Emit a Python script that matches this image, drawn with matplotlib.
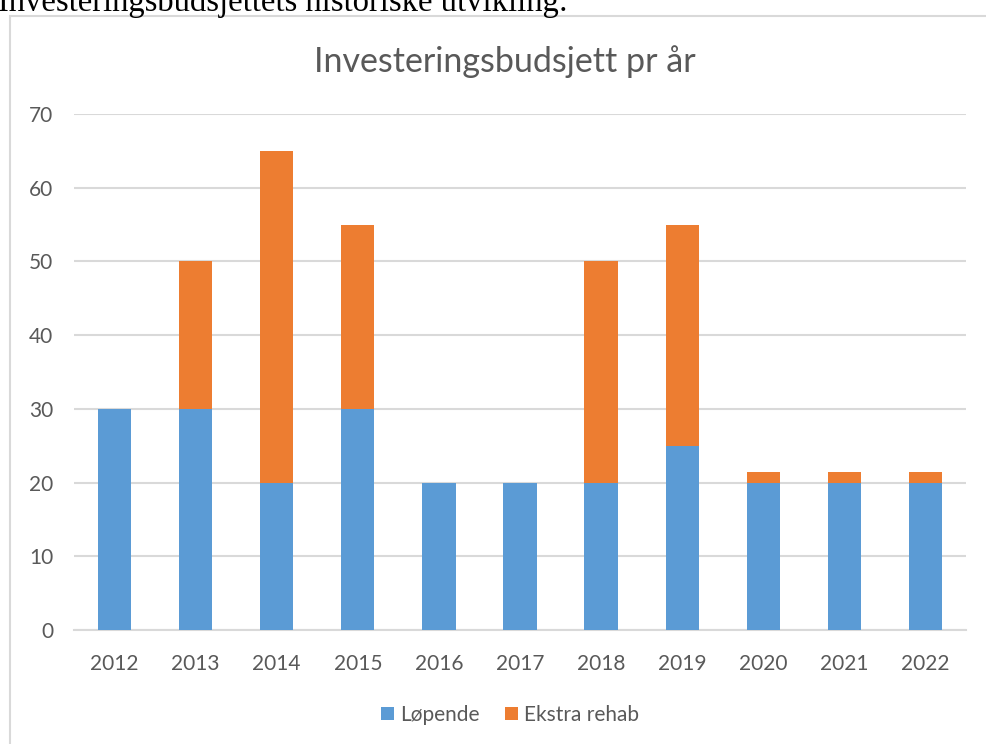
import matplotlib
matplotlib.use("Agg")
import matplotlib.pyplot as plt
from matplotlib.patches import Rectangle
import numpy as np

years = ["2012", "2013", "2014", "2015", "2016", "2017", "2018", "2019", "2020", "2021", "2022"]
lopende = [30, 30, 20, 30, 20, 20, 20, 25, 20, 20, 20]
ekstra = [0, 20, 45, 25, 0, 0, 30, 30, 1.4, 1.4, 1.4]
yticks = [0, 10, 20, 30, 40, 50, 60, 70]

BLUE = "#5B9BD5"
ORANGE = "#ED7D31"
TXT = "#595959"
GRID = "#D9D9D9"

plt.rcParams['font.family'] = ['Lato', 'DejaVu Sans']

W, H = 987, 744
fig = plt.figure(figsize=(W / 100, H / 100), dpi=100)

# chart frame
fig.patches.append(Rectangle((10 / W, -0.1), 1.2, 1 - 16 / H + 0.1, transform=fig.transFigure,
                             fill=False, edgecolor=GRID, linewidth=1.5))

# cropped document heading
fig.text(-2 / W, 1 - 11 / H, "Investeringsbudsjettets historiske utvikling:",
         family="Liberation Serif", fontsize=23.5, color="black", va="baseline", ha="left")

ax = fig.add_axes([74 / W, 1 - 630 / H, (966 - 74) / W, (630 - 114) / H])
x = np.arange(len(years))
ax.bar(x, lopende, width=0.41, color=BLUE, label="Løpende", zorder=3)
ax.bar(x, ekstra, width=0.41, bottom=lopende, color=ORANGE, label="Ekstra rehab", zorder=3)

ax.set_xlim(-0.5, len(years) - 0.5)
ax.set_ylim(0, 70)
ax.set_yticks(yticks)
ax.set_xticks(x)
ax.set_xticklabels(years)
ax.yaxis.grid(True, color=GRID, linewidth=1.5, zorder=0)
for s in ["top", "right", "left"]:
    ax.spines[s].set_visible(False)
ax.spines["bottom"].set_color(GRID)
ax.spines["bottom"].set_linewidth(1.5)
ax.tick_params(axis="both", length=0, colors=TXT, labelsize=15)
ax.tick_params(axis="y", pad=15)
ax.tick_params(axis="x", pad=17)

fig.text(505 / W, 1 - 62 / H, "Investeringsbudsjett pr år", ha="center", va="center",
         fontsize=24.5, color=TXT)

leg = fig.legend(loc="center", bbox_to_anchor=(510 / W, 1 - 715 / H), ncol=2, frameon=False,
                 fontsize=15, handlelength=0.62, handleheight=0.62, handletextpad=0.3,
                 columnspacing=1.2, labelcolor=TXT)

fig.savefig("out.png", dpi=100)
